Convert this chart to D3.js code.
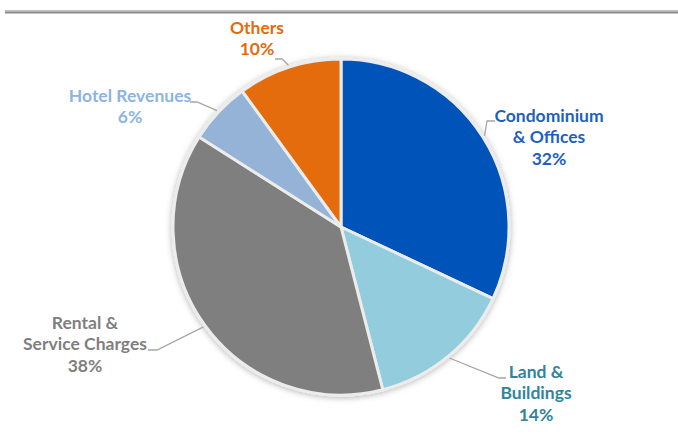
<!DOCTYPE html>
<html>
<head>
<meta charset="utf-8">
<script src="https://cdn.jsdelivr.net/npm/d3@7"></script>
<style>
  html, body { margin: 0; padding: 0; background: #ffffff; }
  svg { display: block; }
  text { font-family: Lato, "Open Sans", sans-serif; font-weight: 700; }
</style>
</head>
<body>
<svg id="chart" width="678" height="434"></svg>
<script>
// Revenue mix by segment, clockwise from 12 o'clock
const categories = ["Condominium & Offices", "Land & Buildings", "Rental & Service Charges", "Hotel Revenues", "Others"];
const shares = [32, 14, 38, 6, 10];
const labelLines = [
  ["Condominium", "& Offices"],
  ["Land &", "Buildings"],
  ["Rental &", "Service Charges"],
  ["Hotel Revenues"],
  ["Others"]
];

const sliceColors = ["#0052b9", "#93cddd", "#7f7f7f", "#95b3d7", "#e46c0a"];
const textColors  = ["#1f5fbf", "#31849b", "#7f7f7f", "#8db4e2", "#e46c0a"];

// label block anchors (centre x, first baseline) and leader elbows
const labelPlace = [
  { x: 549, y: 122, elbow: [487, 121], stub: [495, 121] },
  { x: 536, y: 378, elbow: [499, 378], stub: [506, 378] },
  { x: 85,  y: 329, elbow: [157, 350], stub: [148, 350] },
  { x: 130, y: 102, elbow: [197, 102], stub: [190, 102] },
  { x: 257, y: 34,  elbow: [282, 59],  stub: [275, 59] }
];

const svg = d3.select("#chart");
const cx = 341, cy = 227, r = 168;

// top rule
svg.append("rect").attr("x", 5).attr("y", 10).attr("width", 673).attr("height", 1.5).attr("fill", "#bdbdbd");
svg.append("rect").attr("x", 5).attr("y", 11.5).attr("width", 673).attr("height", 2).attr("fill", "#8a8a8a");

const defs = svg.append("defs");
const f = defs.append("filter").attr("id", "shadow")
  .attr("x", "-20%").attr("y", "-20%").attr("width", "140%").attr("height", "140%");
f.append("feDropShadow").attr("dx", 0).attr("dy", 1).attr("stdDeviation", 3)
  .attr("flood-color", "#000").attr("flood-opacity", 0.3);

const data = categories.map((c, i) => ({ name: c, value: shares[i], i }));
const pie = d3.pie().value(d => d.value).sort(null);
const arcs = pie(data);
const arc = d3.arc().innerRadius(0).outerRadius(r);

const g = svg.append("g").attr("transform", `translate(${cx},${cy})`);
g.append("g").attr("filter", "url(#shadow)")
  .selectAll("path").data(arcs).join("path")
  .attr("d", arc)
  .attr("fill", d => sliceColors[d.data.i])
  .attr("stroke", "#ececec")
  .attr("stroke-width", 3)
  .attr("stroke-linejoin", "round");

// leader lines from slice edge at mid-angle to label
arcs.forEach(a => {
  const p = labelPlace[a.data.i];
  const mid = (a.startAngle + a.endAngle) / 2;
  const ex = cx + Math.sin(mid) * (r + 2);
  const ey = cy - Math.cos(mid) * (r + 2);
  svg.append("polyline")
    .attr("points", [[ex, ey], p.elbow, p.stub].map(q => q.join(",")).join(" "))
    .attr("fill", "none")
    .attr("stroke", "#a6a6a6")
    .attr("stroke-width", 1.3);
});

// labels
arcs.forEach(a => {
  const i = a.data.i;
  const p = labelPlace[i];
  const lines = labelLines[i].concat([a.data.value + "%"]);
  const t = svg.append("text")
    .attr("text-anchor", "middle")
    .attr("fill", textColors[i])
    .attr("font-size", 17.5);
  lines.forEach((ln, k) => {
    t.append("tspan").attr("x", p.x).attr("y", p.y + k * 21.3).text(ln);
  });
});
</script>
</body>
</html>
